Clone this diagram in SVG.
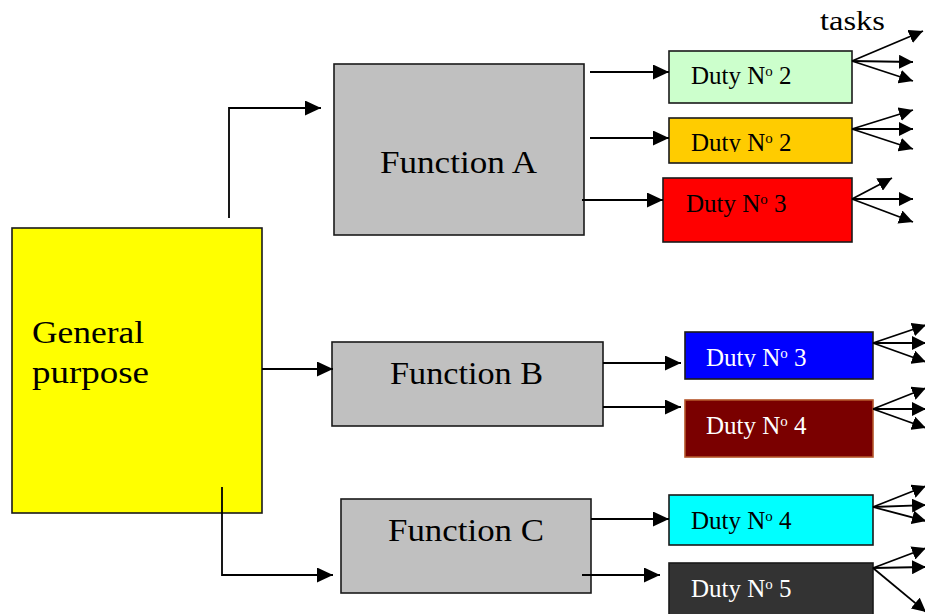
<svg xmlns="http://www.w3.org/2000/svg" width="925" height="614" viewBox="0 0 925 614">
<style>
.box{stroke:#1a1a1a;stroke-width:1.6}
.fn{fill:#c0c0c0}
.lbl{font-family:"Liberation Serif","Times New Roman",serif;fill:#000}
.big{font-size:32px}
.duty{font-size:25px}
.sup{font-size:15px}
.w{fill:#ffffff}
.con{fill:none;stroke:#000;stroke-width:1.8;marker-end:url(#ah)}
.fan{fill:none;stroke:#000;stroke-width:1.8;marker-end:url(#ah2)}
</style>
<defs>
<marker id="ah" markerUnits="userSpaceOnUse" markerWidth="17" markerHeight="15" refX="16" refY="7.5" orient="auto">
<path d="M0,0 L16,7.5 L0,15 z" fill="#000"/>
</marker>
<marker id="ah2" markerUnits="userSpaceOnUse" markerWidth="15" markerHeight="14" refX="14" refY="7" orient="auto">
<path d="M0,0 L14,7 L0,14 z" fill="#000"/>
</marker>
<clipPath id="clipOrange"><rect x="669" y="118" width="183" height="34"/></clipPath>
<clipPath id="clipBlue"><rect x="685" y="332" width="188" height="35"/></clipPath>
</defs>
<rect width="925" height="614" fill="#ffffff"/>

<text class="lbl" x="820" y="30" font-size="27" textLength="65" lengthAdjust="spacingAndGlyphs">tasks</text>

<g id="general-purpose">
<rect class="box" x="12" y="228" width="250" height="285" fill="#ffff00"/>
<text class="lbl big" x="32" y="343" textLength="112" lengthAdjust="spacingAndGlyphs">General</text>
<text class="lbl big" x="32" y="383" textLength="117" lengthAdjust="spacingAndGlyphs">purpose</text>
</g>

<g id="function-a">
<rect class="box fn" x="334" y="64" width="250" height="171"/>
<text class="lbl big" x="380" y="173" textLength="157" lengthAdjust="spacingAndGlyphs">Function A</text>
</g>
<g id="function-b">
<rect class="box fn" x="332" y="342" width="271" height="84"/>
<text class="lbl big" x="390" y="384" textLength="153" lengthAdjust="spacingAndGlyphs">Function B</text>
</g>
<g id="function-c">
<rect class="box fn" x="341" y="499" width="250" height="94"/>
<text class="lbl big" x="388" y="541" textLength="156" lengthAdjust="spacingAndGlyphs">Function C</text>
</g>

<g id="duty-a1">
<rect class="box" x="669" y="51" width="183" height="52" fill="#ccffcc"/>
<text class="lbl duty" x="691" y="84">Duty N<tspan class="sup" dy="-8">o</tspan><tspan dy="8"> 2</tspan></text>
</g>
<g id="duty-a2">
<rect class="box" x="669" y="118" width="183" height="45" fill="#ffcc00"/>
<text class="lbl duty" x="691" y="151" clip-path="url(#clipOrange)">Duty N<tspan class="sup" dy="-8">o</tspan><tspan dy="8"> 2</tspan></text>
</g>
<g id="duty-a3">
<rect class="box" x="663" y="178" width="189" height="64" fill="#ff0000"/>
<text class="lbl duty" x="686" y="212">Duty N<tspan class="sup" dy="-8">o</tspan><tspan dy="8"> 3</tspan></text>
</g>
<g id="duty-b1">
<rect class="box" x="685" y="332" width="188" height="47" fill="#0000ff"/>
<text class="lbl duty w" x="706" y="366" clip-path="url(#clipBlue)">Duty N<tspan class="sup" dy="-8">o</tspan><tspan dy="8"> 3</tspan></text>
</g>
<g id="duty-b2">
<rect x="685" y="400" width="188" height="57" fill="#7a0000" stroke="#b5552a" stroke-width="1.6"/>
<text class="lbl duty w" x="706" y="434">Duty N<tspan class="sup" dy="-8">o</tspan><tspan dy="8"> 4</tspan></text>
</g>
<g id="duty-c1">
<rect class="box" x="669" y="495" width="204" height="50" fill="#00ffff"/>
<text class="lbl duty" x="691" y="529">Duty N<tspan class="sup" dy="-8">o</tspan><tspan dy="8"> 4</tspan></text>
</g>
<g id="duty-c2">
<rect class="box" x="669" y="563" width="204" height="60" fill="#333333"/>
<text class="lbl duty w" x="691" y="597">Duty N<tspan class="sup" dy="-8">o</tspan><tspan dy="8"> 5</tspan></text>
</g>

<g id="connectors">
<polyline class="con" points="229,218 229,108 321,108"/>
<line class="con" x1="262" y1="369" x2="333" y2="369"/>
<polyline class="con" points="222,487 222,575 333,575"/>

<line class="con" x1="590" y1="72" x2="669" y2="72"/>
<line class="con" x1="590" y1="138" x2="669" y2="138"/>
<line class="con" x1="582" y1="200" x2="663" y2="200"/>
<line class="con" x1="603" y1="363" x2="681" y2="363"/>
<line class="con" x1="603" y1="407" x2="681" y2="407"/>
<line class="con" x1="591" y1="519" x2="669" y2="519"/>
<line class="con" x1="582" y1="575" x2="660" y2="575"/>

<line class="fan" x1="852" y1="61" x2="923" y2="31"/>
<line class="fan" x1="852" y1="61" x2="913" y2="62"/>
<line class="fan" x1="852" y1="61" x2="913" y2="81"/>

<line class="fan" x1="852" y1="129" x2="913" y2="110"/>
<line class="fan" x1="852" y1="129" x2="913" y2="129"/>
<line class="fan" x1="852" y1="129" x2="913" y2="149"/>

<line class="fan" x1="852" y1="199" x2="892" y2="178"/>
<line class="fan" x1="852" y1="199" x2="913" y2="199"/>
<line class="fan" x1="852" y1="199" x2="913" y2="222"/>

<line class="fan" x1="873" y1="343" x2="926" y2="325"/>
<line class="fan" x1="873" y1="343" x2="926" y2="343"/>
<line class="fan" x1="873" y1="343" x2="926" y2="362"/>

<line class="fan" x1="873" y1="409" x2="926" y2="388"/>
<line class="fan" x1="873" y1="409" x2="926" y2="409"/>
<line class="fan" x1="873" y1="409" x2="926" y2="428"/>

<line class="fan" x1="873" y1="507" x2="926" y2="486"/>
<line class="fan" x1="873" y1="507" x2="926" y2="505"/>
<line class="fan" x1="873" y1="507" x2="926" y2="521"/>

<line class="fan" x1="873" y1="568" x2="926" y2="548"/>
<line class="fan" x1="873" y1="568" x2="926" y2="567"/>
<line class="fan" x1="873" y1="568" x2="926" y2="612"/>
</g>
</svg>
